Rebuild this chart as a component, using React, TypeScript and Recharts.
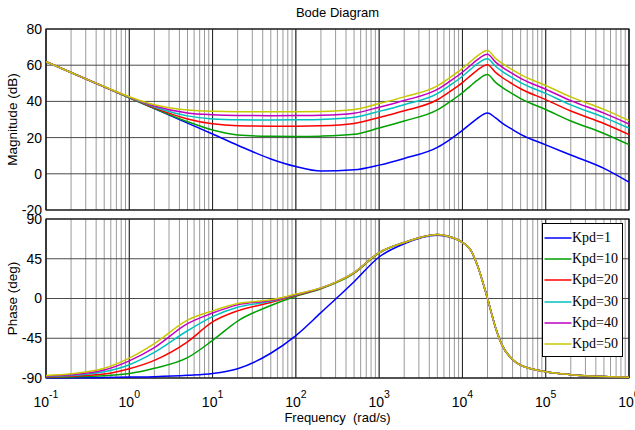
import React from 'react';
import { LineChart, Line, XAxis, YAxis, CartesianGrid, ReferenceLine, ReferenceArea, Legend } from 'recharts';

const SANS = '"Liberation Sans", Arial, sans-serif';
const SERIF = '"Liberation Serif", "Times New Roman", serif';

// frequency points (rad/s)
const FREQ = [0.1, 0.2, 0.5, 1, 2, 5, 10, 20, 50, 100, 200, 500, 1e3, 2e3, 5e3, 7e3, 1e4, 1.25e4, 1.5e4, 2e4, 2.5e4, 3e4, 4e4, 5e4, 1e5, 2e5, 5e5, 1e6];

// magnitude (dB)
const MAG_KPD1 = [62, 56, 48, 42, 36, 28, 22, 15.8, 8.2, 4, 1.5, 2.2, 4.8, 8.5, 14.6, 18.8, 24, 27.6, 30.5, 33.6, 30.9, 28, 24.4, 21.8, 16, 10.4, 3, -4.6];
const MAG_KPD10 = [62, 56, 48, 42, 36.1, 28.8, 24.2, 21.5, 20.7, 20.6, 20.8, 21.8, 25.3, 29.2, 35.3, 39.7, 44.8, 48.6, 51.6, 54.8, 50.5, 47.7, 44.1, 41.5, 35.5, 29.2, 22.3, 16.1];
const MAG_KPD20 = [62, 56, 48, 42.1, 36.4, 30.3, 27.6, 26.5, 26.3, 26.3, 26.5, 27.8, 31.1, 34.8, 40.9, 45.3, 50.4, 54.2, 57.2, 60.3, 56, 53.2, 49.6, 47, 41, 34.7, 27.8, 21.7];
const MAG_KPD30 = [62, 56, 48.1, 42.2, 36.9, 32, 30.3, 29.8, 29.7, 29.8, 30, 31.2, 34.5, 38.2, 44.3, 48.7, 53.9, 57.7, 60.7, 63.6, 59.4, 56.6, 53, 50.4, 44.4, 38.1, 31.2, 25.2];
const MAG_KPD40 = [62, 56, 48.1, 42.4, 37.5, 33.6, 32.6, 32.2, 32.1, 32.2, 32.4, 33.5, 36.8, 40.5, 46.6, 51, 56.1, 59.9, 62.9, 66, 61.7, 58.9, 55.3, 52.7, 46.7, 40.4, 33.5, 27.5];
const MAG_KPD50 = [62, 56, 48.2, 42.6, 38.1, 35.2, 34.5, 34.3, 34.3, 34.3, 34.4, 35.5, 38.8, 42.5, 48.6, 53, 58.2, 62, 65, 68.1, 63.8, 61, 57.4, 54.8, 48.8, 42.5, 35.6, 29.4];

// phase (deg)
const PHASE_KPD1 = [-89.9, -89.8, -89.5, -89, -88.5, -87, -85, -79.5, -62, -42, -16, 19, 47, 62, 71.5, 69.5, 63.4, 55, 38.5, 0, -33, -53, -69, -75.5, -82.8, -86.2, -88.4, -89.2];
const PHASE_KPD10 = [-89.3, -88.8, -87.5, -85, -79, -67, -47.5, -25.5, -8, 2.5, 11, 28.5, 51.5, 63.4, 72.5, 70, 63.4, 55, 38.5, 0, -33, -53, -69, -75.5, -82.8, -86.2, -88.4, -89.2];
const PHASE_KPD20 = [-88.8, -88, -85.5, -79.5, -70, -49, -26.5, -14, -4.5, 3.5, 11.5, 29, 52, 63.4, 72.5, 70, 63.4, 55, 38.5, 0, -33, -53, -69, -75.5, -82.8, -86.2, -88.4, -89.2];
const PHASE_KPD30 = [-88.3, -87.3, -83, -75, -61, -36.5, -20.5, -10, -3.2, 4, 11.7, 29.2, 52, 63.4, 72.5, 70, 63.4, 55, 38.5, 0, -33, -53, -69, -75.5, -82.8, -86.2, -88.4, -89.2];
const PHASE_KPD40 = [-87.8, -86.3, -81, -70.6, -55.5, -28.5, -16.5, -7.2, -2.3, 4.5, 11.8, 29.3, 52, 63.4, 72.5, 70, 63.4, 55, 38.5, 0, -33, -53, -69, -75.5, -82.8, -86.2, -88.4, -89.2];
const PHASE_KPD50 = [-87.2, -85.3, -79, -67.5, -51, -24.5, -14, -5.7, -1.5, 5, 12, 29.4, 52, 63.4, 72.5, 70, 63.4, 55, 38.5, 0, -33, -53, -69, -75.5, -82.8, -86.2, -88.4, -89.2];

const SERIES = [
  { key: 'k1', name: 'Kpd=1', color: '#0000ff', mag: MAG_KPD1, phase: PHASE_KPD1 },
  { key: 'k10', name: 'Kpd=10', color: '#00a000', mag: MAG_KPD10, phase: PHASE_KPD10 },
  { key: 'k20', name: 'Kpd=20', color: '#ff0000', mag: MAG_KPD20, phase: PHASE_KPD20 },
  { key: 'k30', name: 'Kpd=30', color: '#00c0c0', mag: MAG_KPD30, phase: PHASE_KPD30 },
  { key: 'k40', name: 'Kpd=40', color: '#c000c0', mag: MAG_KPD40, phase: PHASE_KPD40 },
  { key: 'k50', name: 'Kpd=50', color: '#c8c800', mag: MAG_KPD50, phase: PHASE_KPD50 },
];

const MAG_TICKS = [-20, 0, 20, 40, 60, 80];
const PHASE_TICKS = [-90, -45, 0, 45, 90];
const DECADES = [0.1, 1, 10, 100, 1e3, 1e4, 1e5, 1e6];
const GRID_FREQ = DECADES.flatMap(d => (d === 1e6 ? [d] : [1, 2, 3, 4, 5, 6, 7, 8, 9].map(m => m * d)));

const magRows = FREQ.map((f, i) => {
  const row: Record<string, number> = { f };
  SERIES.forEach(s => { row[s.key] = s.mag[i]; });
  return row;
});
const phaseRows = FREQ.map((f, i) => {
  const row: Record<string, number> = { f };
  SERIES.forEach(s => { row[s.key] = s.phase[i]; });
  return row;
});

function EmptyTick() {
  return <g />;
}

function DecadeTick({ x, y, payload }: any) {
  const v = payload.value;
  const e = Math.round(Math.log10(v));
  if (Math.abs(v - Math.pow(10, e)) > 1e-6 * v) return <g />;
  return (
    <text x={x} y={y + 29} textAnchor="middle" fontFamily={SANS} fontSize={14} fill="#000">
      <tspan>10</tspan>
      <tspan dy={-9} fontSize={10.5}>{e}</tspan>
    </text>
  );
}

const yTitle = (text: string) => (props: any) => {
  const { y, height } = props.viewBox;
  const cx = 17;
  const cy = y + height / 2;
  return (
    <text x={cx} y={cy} transform={`rotate(-90 ${cx} ${cy})`} textAnchor="middle" fontFamily={SANS} fontSize={13.5} fill="#000">
      {text}
    </text>
  );
};

const freqTitle = (props: any) => {
  const { x, y, width } = props.viewBox;
  return (
    <text x={x + width / 2} y={y + 44} textAnchor="middle" fontFamily={SANS} fontSize={13} fill="#000">
      {'Frequency\u00a0 (rad/s)'}
    </text>
  );
};

function KpdLegend() {
  return (
    <div style={{ boxSizing: 'border-box', width: 81, height: 134, border: '1.5px solid #000', background: '#fff', paddingTop: 3 }}>
      {SERIES.map(s => (
        <div key={s.key} style={{ display: 'flex', alignItems: 'center', height: 21.3 }}>
          <svg width={29} height={6} style={{ display: 'block' }}>
            <line x1={1.5} x2={28.5} y1={3} y2={3} stroke={s.color} strokeWidth={1.5} />
          </svg>
          <span style={{ fontFamily: SERIF, fontSize: 14, color: '#000', lineHeight: '14px' }}>{s.name}</span>
        </div>
      ))}
    </div>
  );
}

const tickStyle = { fontFamily: SANS, fontSize: 14, fill: '#000' };

function gridLines() {
  return [
    <CartesianGrid key="gv" horizontal={false} stroke="#9a9a9a" strokeWidth={1} />,
    <CartesianGrid key="gh" vertical={false} stroke="#4a4a4a" strokeWidth={1} />,
    ...DECADES.map(d => <ReferenceLine key={`d${d}`} x={d} stroke="#222" strokeWidth={1} />),
  ];
}

export default function App() {
  return (
    <div style={{ position: 'absolute', left: 0, top: 0, width: 635, height: 430, background: '#fff', overflow: 'hidden' }}>
      <div style={{ position: 'absolute', left: 0, top: 0 }}>
        <LineChart width={635} height={215} data={magRows} margin={{ top: 29, right: 6, bottom: 4, left: 0 }}>
          {gridLines()}
          <XAxis dataKey="f" type="number" scale="log" domain={[0.1, 1e6]} ticks={GRID_FREQ} interval={0}
            height={1} tick={<EmptyTick />} axisLine={false} tickLine={false} allowDataOverflow />
          <YAxis type="number" domain={[-20, 80]} ticks={MAG_TICKS} interval={0} width={46}
            tick={tickStyle} tickSize={0} tickMargin={4} axisLine={false} tickLine={false}
            label={yTitle('Magnitude (dB)')} />
          {SERIES.map(s => (
            <Line key={s.key} type="monotone" dataKey={s.key} name={s.name} stroke={s.color} strokeWidth={1.5}
              dot={false} isAnimationActive={false} />
          ))}
          <ReferenceArea x1={0.1} x2={1e6} y1={-20} y2={80} fill="none" stroke="#000" strokeWidth={1.2} />
        </LineChart>
      </div>
      <svg style={{ position: 'absolute', left: 0, top: 0 }} width={635} height={24}>
        <text x={337.5} y={17} textAnchor="middle" fontFamily={SANS} fontSize={13} fill="#000">Bode Diagram</text>
      </svg>
      <div style={{ position: 'absolute', left: 0, top: 215, background: '#fff' }}>
        <LineChart width={635} height={215} data={phaseRows} margin={{ top: 4, right: 6, bottom: 22, left: 0 }}>
          {gridLines()}
          <XAxis dataKey="f" type="number" scale="log" domain={[0.1, 1e6]} ticks={GRID_FREQ} interval={0}
            height={30} tick={<DecadeTick />} tickSize={0} tickMargin={0} axisLine={false} tickLine={false}
            allowDataOverflow label={freqTitle} />
          <YAxis type="number" domain={[-90, 90]} ticks={PHASE_TICKS} interval={0} width={46}
            tick={tickStyle} tickSize={0} tickMargin={4} axisLine={false} tickLine={false}
            label={yTitle('Phase (deg)')} />
          {SERIES.map(s => (
            <Line key={s.key} type="monotone" dataKey={s.key} name={s.name} stroke={s.color} strokeWidth={1.5}
              dot={false} isAnimationActive={false} />
          ))}
          <ReferenceArea x1={0.1} x2={1e6} y1={-90} y2={90} fill="none" stroke="#000" strokeWidth={1.2} />
          <Legend layout="vertical" align="center" verticalAlign="middle" content={() => <KpdLegend />}
            wrapperStyle={{ left: 542, top: 8, width: 81, height: 134 }} />
        </LineChart>
      </div>
    </div>
  );
}
